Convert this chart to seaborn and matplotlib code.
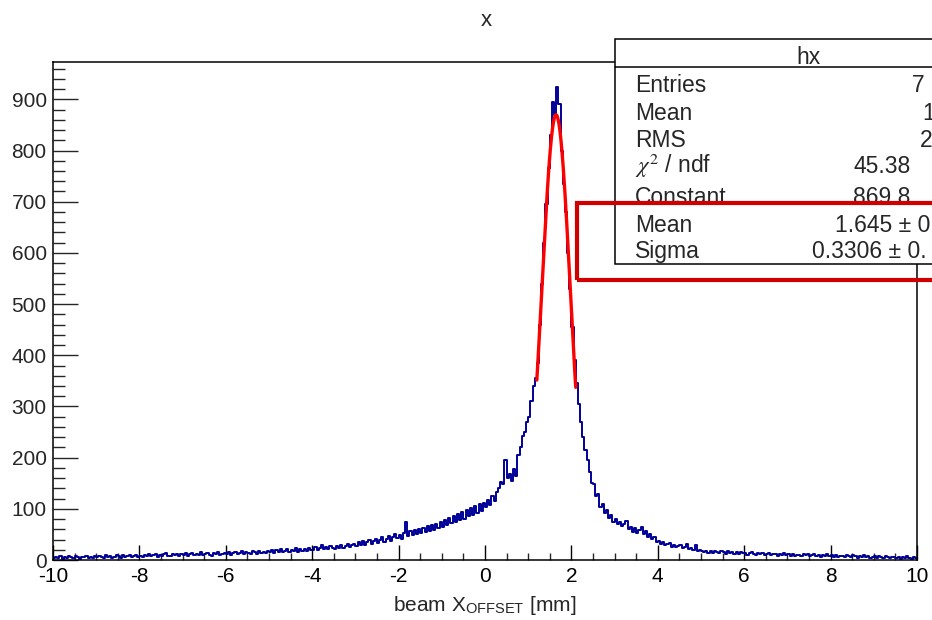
import numpy as np
import pandas as pd
import matplotlib
matplotlib.use("Agg")
import matplotlib.pyplot as plt
import seaborn as sns
from matplotlib.patches import Rectangle
from matplotlib.lines import Line2D

# ---------------- data ----------------
x_min, x_max, bin_width = -10.0, 10.0, 0.05

counts_m10_m5 = [
    3, 6, 4, 7, 2, 5, 4, 8, 5, 3, 7, 5, 2, 6, 5, 8, 3, 6, 4, 7,
    5, 8, 6, 3, 9, 5, 7, 4, 6, 9, 7, 4, 10, 6, 7, 9, 5, 7, 10, 6,
    8, 5, 10, 7, 11, 7, 9, 12, 6, 9, 8, 11, 13, 8, 7, 12, 9, 11, 7, 12,
    10, 13, 8, 11, 14, 9, 12, 10, 15, 9, 12, 14, 10, 8, 14, 12, 15, 10, 12, 14,
    11, 15, 10, 13, 16, 11, 14, 17, 12, 15, 14, 11, 17, 15, 12, 18, 13, 16, 14, 18,
]
counts_m5_0 = [
    15, 19, 14, 20, 16, 21, 15, 18, 22, 16, 20, 17, 23, 16, 21, 18, 22, 17, 23, 20,
    19, 25, 20, 24, 29, 21, 26, 22, 27, 24, 21, 28, 24, 30, 23, 28, 31, 25, 29, 32,
    27, 35, 30, 37, 29, 36, 39, 32, 38, 41, 34, 40, 44, 36, 42, 46, 38, 44, 50, 43,
    48, 42, 52, 74, 46, 56, 49, 58, 50, 61, 53, 63, 55, 66, 57, 68, 59, 71, 62, 74,
    65, 78, 69, 82, 72, 86, 75, 90, 78, 93, 80, 98, 85, 102, 88, 106, 92, 110, 96, 112,
]
counts_0_5 = [
    104, 118, 108, 126, 115, 132, 140, 152, 148, 195, 160, 168, 155, 178, 165, 205, 220, 242, 250, 270,
    280, 310, 340, 355, 385, 460, 540, 620, 695, 765, 830, 895, 870, 925, 890, 800, 735, 680, 600, 530,
    455, 390, 345, 305, 270, 240, 215, 195, 172, 150, 148, 126, 128, 104, 110, 92, 98, 82, 88, 74,
    80, 70, 75, 66, 70, 76, 60, 65, 55, 62, 52, 59, 64, 50, 57, 45, 50, 42, 44, 36,
    38, 31, 35, 29, 32, 34, 26, 30, 25, 28, 29, 23, 26, 31, 22, 24, 20, 30, 18, 20,
]
counts_5_10 = [
    18, 15, 18, 14, 17, 13, 18, 15, 13, 17, 15, 12, 17, 14, 16, 12, 15, 11, 16, 13,
    14, 10, 13, 15, 11, 9, 14, 11, 13, 9, 12, 14, 9, 12, 11, 8, 12, 10, 13, 9,
    11, 8, 12, 7, 10, 9, 7, 11, 9, 12, 7, 9, 11, 7, 10, 6, 9, 8, 11, 7,
    9, 6, 10, 5, 8, 7, 5, 9, 7, 5, 9, 7, 4, 8, 6, 9, 5, 7, 4, 6,
    7, 4, 8, 5, 3, 7, 5, 3, 6, 5, 3, 6, 2, 5, 4, 7, 3, 2, 5, 3,
]

# Gaussian fit parameters shown in the stats box, and the fit range
fit_constant, fit_mean, fit_sigma = 869.8, 1.645, 0.3306
fit_range = (1.2, 2.1)

x_ticks = [-10, -8, -6, -4, -2, 0, 2, 4, 6, 8, 10]
y_ticks = [0, 100, 200, 300, 400, 500, 600, 700, 800, 900]

stat_title = "hx"
stat_labels = ["Entries", "Mean", "RMS", r"$\chi^{2}$ / ndf", "Constant", "Mean", "Sigma"]
stat_values = ["7", "1", "2", "45.38", "869.8", "1.645 \u00b1 0", "0.3306 \u00b1 0."]

title = "x"
xlabel = r"beam X$_{\mathregular{OFFSET}}$ [mm]"

# ---------------- figure ----------------
sns.set_style("white")
plt.rcParams["font.family"] = ["Liberation Sans", "DejaVu Sans"]
plt.rcParams["axes.unicode_minus"] = False
plt.rcParams["mathtext.fontset"] = "stix"

W, H = 932, 620
fig = plt.figure(figsize=(W / 100, H / 100), dpi=100)
fig.patch.set_facecolor("white")

def fx(px):
    return px / W

def fy(py):
    return 1 - py / H

ax = fig.add_axes([fx(53), fy(560), (917 - 53) / W, (560 - 62) / H])

counts = np.array(counts_m10_m5 + counts_m5_0 + counts_0_5 + counts_5_10, dtype=float)
n_bins = len(counts)
centers = x_min + bin_width * (np.arange(n_bins) + 0.5)
df = pd.DataFrame({"x": centers, "w": counts})

sns.histplot(data=df, x="x", weights="w", binwidth=bin_width, binrange=(x_min, x_max),
             element="step", fill=False, color="#000099", linewidth=1.4, ax=ax)

xf = np.linspace(fit_range[0], fit_range[1], 200)
yf = fit_constant * np.exp(-0.5 * ((xf - fit_mean) / fit_sigma) ** 2)
sns.lineplot(x=xf, y=yf, color="#ff0000", linewidth=2.4, ax=ax, zorder=5)

ax.set_xlim(x_min, x_max)
ax.set_ylim(0, 973)
ax.set_xlabel("")
ax.set_ylabel("")
ax.set_xticks(x_ticks)
ax.set_xticklabels([str(t) for t in x_ticks])
ax.set_xticks(np.arange(-10, 10.01, 0.5), minor=True)
ax.set_yticks(y_ticks)
ax.set_yticklabels([str(t) for t in y_ticks])
ax.set_yticks(np.arange(0, 973, 20), minor=True)
ax.tick_params(axis="x", which="major", direction="in", length=11, width=1.0,
               labelsize=15, pad=5, top=False, bottom=True, colors="black")
ax.tick_params(axis="x", which="minor", direction="in", length=5, width=1.0,
               top=False, bottom=True)
ax.tick_params(axis="y", which="major", direction="in", length=18, width=1.0,
               labelsize=15, pad=4.5, left=True, right=False)
ax.tick_params(axis="y", which="minor", direction="in", length=8.5, width=1.0,
               left=True, right=False)
for s in ax.spines.values():
    s.set_visible(True)
    s.set_color("black")
    s.set_linewidth(1.1)

# title and axis label
fig.text(fx(486), fy(20), title, ha="center", va="center", fontsize=16)
fig.text(fx(485), fy(611), xlabel, ha="center", va="baseline", fontsize=15)

# stats box
box_left, box_top, box_bottom = 615, 39.5, 263.5
fig.patches.append(Rectangle((fx(box_left), fy(box_bottom)), fx(W + 80 - box_left),
                             (box_bottom - box_top) / H, transform=fig.transFigure,
                             facecolor="white", edgecolor="black", linewidth=1.1,
                             zorder=10, clip_on=False))
fig.lines.append(Line2D([fx(box_left), fx(W + 10)], [fy(67), fy(67)],
                        transform=fig.transFigure, color="black", linewidth=1.1, zorder=11))
fig.text(fx(808), fy(63.5), stat_title, ha="center", va="baseline", fontsize=16.5, zorder=12)

label_baselines = [91.7, 119.5, 146.7, 173, 204, 231.7, 258.3]
value_starts = [912, 922, 920, 854, 853, 835, 812]
for lab, val, yb, xs in zip(stat_labels, stat_values, label_baselines, value_starts):
    fig.text(fx(635), fy(yb), lab, ha="left", va="baseline", fontsize=16.5, zorder=12)
    fig.text(fx(xs), fy(yb), val, ha="left", va="baseline", fontsize=16.5, zorder=12)

# red highlight rectangle
fig.patches.append(Rectangle((fx(577), fy(280)), fx(W + 80 - 577), (280 - 203) / H,
                             transform=fig.transFigure, facecolor="none",
                             edgecolor="#d00000", linewidth=3.0, zorder=20, clip_on=False))

fig.savefig("out.png", dpi=100, facecolor="white")
